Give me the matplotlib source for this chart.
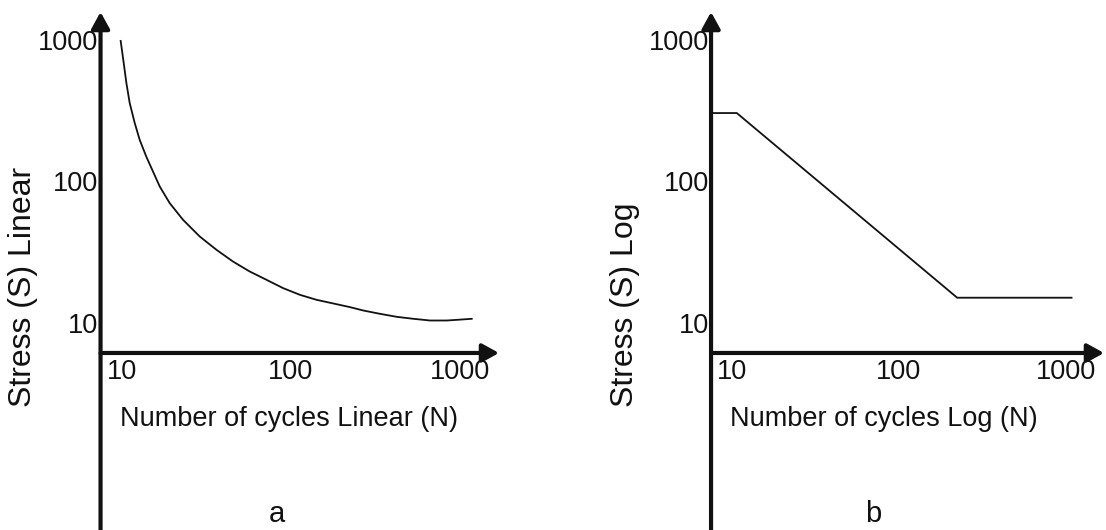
import numpy as np
import matplotlib.pyplot as plt

plt.rcParams['font.family'] = ['Liberation Sans', 'DejaVu Sans']

# panel a: S-N curve
n_lin = [9.865, 10.28, 10.66, 11.15, 11.94, 12.78, 14.0, 16.79, 19.23,
         23.05, 28.94, 36.35, 45.55, 57.2, 71.8, 90.0, 113.1, 141.9, 223.4,
         267.8, 336.2, 422.1, 529.3, 664.5, 834.2, 956, 1173]
s_lin = [980, 685, 495, 357.5, 258, 195.8, 148.5, 91.6, 69.9,
         53.3, 40.6, 32.7, 27.0, 22.96, 20.07, 17.53, 15.72, 14.49, 12.87,
         12.18, 11.54, 10.99, 10.64, 10.35, 10.35, 10.46, 10.64]

# panel b: piecewise log-log curve
n_log = [7.5, 10.7, 224, 1086]
s_log = [303, 303, 15, 15]

tick_vals = [10, 100, 1000]
tick_labels = ['10', '100', '1000']

ink = '#111111'

fig = plt.figure(figsize=(11.06, 5.30), dpi=100)
ax1 = fig.add_axes([0.0909, 0.334, 0.3603, 0.6434])
ax2 = fig.add_axes([0.6429, 0.334, 0.3553, 0.6434])

def setup(ax, n, s, xlab, ylab, letter, xl, yl, lx):
    ax.plot(n, s, color=ink, lw=1.3)
    ax.set_xscale('log')
    ax.set_yscale('log')
    ax.set_xlim(7.5, 1700)
    ax.set_ylim(6.1, 1570)
    ax.minorticks_off()
    for sp in ax.spines.values():
        sp.set_visible(False)
    ax.set_xticks(tick_vals, tick_labels)
    ax.set_yticks(tick_vals, tick_labels)
    ax.tick_params(axis='x', length=0, pad=4, labelsize=19.5, labelcolor=ink)
    ax.tick_params(axis='y', length=0, pad=1.5, labelsize=19.5, labelcolor=ink)
    ax.patch.set_visible(False)

    arrow = dict(arrowstyle='-|>,head_length=1.0,head_width=0.55', lw=3,
                 color=ink, mutation_scale=10, shrinkA=0, shrinkB=0)
    ax.annotate('', xy=(0, 1), xytext=(0, -0.52), xycoords='axes fraction',
                arrowprops=arrow, annotation_clip=False)
    ax.annotate('', xy=(1, 0), xytext=(0, 0), xycoords='axes fraction',
                arrowprops=arrow, annotation_clip=False)

    ax.text(xl, -0.1935, xlab, transform=ax.transAxes, ha='center', va='center',
            fontsize=19.5, color=ink)
    ax.text(yl, -0.158, ylab, transform=ax.transAxes, rotation=90,
            ha='center', va='bottom', fontsize=23, color=ink)
    ax.text(lx, -0.4956, letter, transform=ax.transAxes, ha='center', va='baseline',
            fontsize=21, color=ink)

setup(ax1, n_lin, s_lin, 'Number of cycles Linear (N)', 'Stress (S) Linear', 'a',
      0.473, -0.195, 0.443)
setup(ax2, n_log, s_log, 'Number of cycles Log (N)', 'Stress (S) Log', 'b',
      0.440, -0.219, 0.412)

fig.savefig('out.png', dpi=100)
